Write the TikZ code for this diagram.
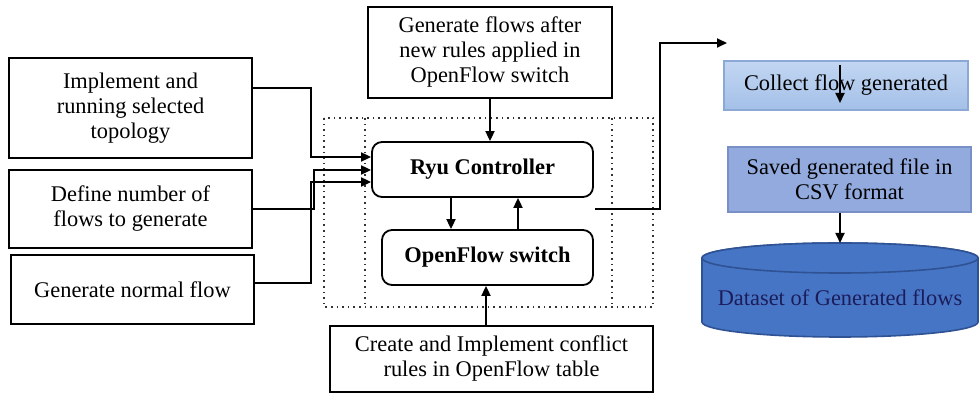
\documentclass[tikz,border=0pt]{standalone}
\usepackage{fontspec}
\setmainfont{Liberation Serif}
\usetikzlibrary{arrows.meta}
\definecolor{collectTop}{HTML}{C2D6F2}
\definecolor{collectBot}{HTML}{A4C0E8}
\definecolor{collectLine}{HTML}{8CA8D4}
\definecolor{savedFill}{HTML}{93AADF}
\definecolor{savedLine}{HTML}{7890C6}
\definecolor{cylFill}{HTML}{4775C6}
\definecolor{cylLine}{HTML}{2E5294}
\definecolor{cylText}{HTML}{1C1C5A}
\tikzset{
  plainbox/.style={draw=black, line width=1pt, align=center, inner sep=0pt,
    font=\fontsize{11.2}{12.5}\selectfont},
  roundbox/.style={draw=black, line width=0.9pt, rounded corners=5pt, align=center,
    inner sep=0pt, font=\fontsize{11.2}{12.5}\selectfont\bfseries},
  bluebox/.style={align=center, inner sep=0pt, font=\fontsize{11.2}{12.5}\selectfont},
  conn/.style={draw=black, line width=0.9pt},
  arr/.style={conn, -{Triangle[length=5pt,width=4.5pt]}},
  dotbox/.style={draw=black!80, line width=0.8pt, dotted}
}
\begin{document}
\begin{tikzpicture}[x=0.5pt,y=-0.5pt]
\useasboundingbox (0,0) rectangle (979,394);
\fill[white] (0,0) rectangle (979,394);

% dotted frame
\draw[dotbox] (324,118) rectangle (653,307);
\draw[dotbox] (365,118) -- (365,307);
\draw[dotbox] (612,118) -- (612,307);

% left boxes
\node[plainbox, minimum width=121.5pt, minimum height=50pt] (b1) at (130.5,108)
  {Implement and\\running selected\\topology};
\node[plainbox, minimum width=121.5pt, minimum height=39pt] (b2) at (130.5,209)
  {Define number of\\flows to generate};
\node[plainbox, minimum width=121.5pt, minimum height=34.5pt] (b3) at (132.5,289.5)
  {Generate normal flow};

% center
\node[plainbox, minimum width=122pt, minimum height=45.5pt] (top) at (490,52.5)
  {Generate flows after\\new rules applied in\\OpenFlow switch};
\node[roundbox, minimum width=110.5pt, minimum height=27.5pt] (ryu) at (482.5,169.5)
  {Ryu Controller};
\node[roundbox, minimum width=105.5pt, minimum height=27.5pt] (sw) at (487.5,257.5)
  {OpenFlow switch};
\node[plainbox, minimum width=161.5pt, minimum height=33pt] (bot) at (491.5,359)
  {Create and Implement conflict\\rules in OpenFlow table};

% right
\node[bluebox, draw=collectLine, line width=0.6pt, top color=collectTop, bottom color=collectBot,
  minimum width=122pt, minimum height=24.5pt] (col) at (846,85.5) {Collect flow generated};
\node[bluebox, draw=savedLine, line width=0.6pt, fill=savedFill,
  minimum width=121.5pt, minimum height=32.5pt] (sav) at (849.5,179.5)
  {Saved generated file in\\CSV format};

% cylinder
\path[fill=cylFill, draw=cylLine, line width=0.8pt]
  (702,258) -- (702,322) arc[start angle=180,end angle=360,x radius=138pt*0.5,y radius=7.5pt]
  -- (978,258) arc[start angle=0,end angle=180,x radius=138pt*0.5,y radius=7.5pt] -- cycle;
\draw[cylLine, line width=0.8pt, fill=cylFill] (840,258) ellipse[x radius=69pt, y radius=7.5pt];
\node[bluebox, text=cylText] (db) at (840,298) {Dataset of Generated flows};
\coordinate (dbtop) at (840,243);

% left connectors
\draw[arr] (b1.east |- 0,88) -| (311,157) -- (ryu.west |- 0,157);
\draw[arr] (b2.east) -| (314,170) -- (ryu.west |- 0,170);
\draw[arr] (b3.east |- 0,283) -| (311,182) -- (ryu.west |- 0,182);

% center connectors
\draw[arr] (top.south) -- (top.south |- ryu.north);
\draw[arr] (ryu.south -| 451,0) -- (sw.north -| 451,0);
\draw[arr] (sw.north -| 518,0) -- (ryu.south -| 518,0);
\draw[arr] (bot.north -| 486,0) -- (sw.south -| 486,0);

% right connectors
\coordinate (rstart) at (595,209);
\coordinate (rend) at (727,43);
\draw[arr] (rstart) -- (660,209) |- (rend);
\coordinate (cin1) at (840,65);
\coordinate (cin2) at (840,103);
\draw[arr] (cin1) -- (cin2);
\draw[arr] (sav.south -| 840,0) -- (dbtop);
\end{tikzpicture}
\end{document}
